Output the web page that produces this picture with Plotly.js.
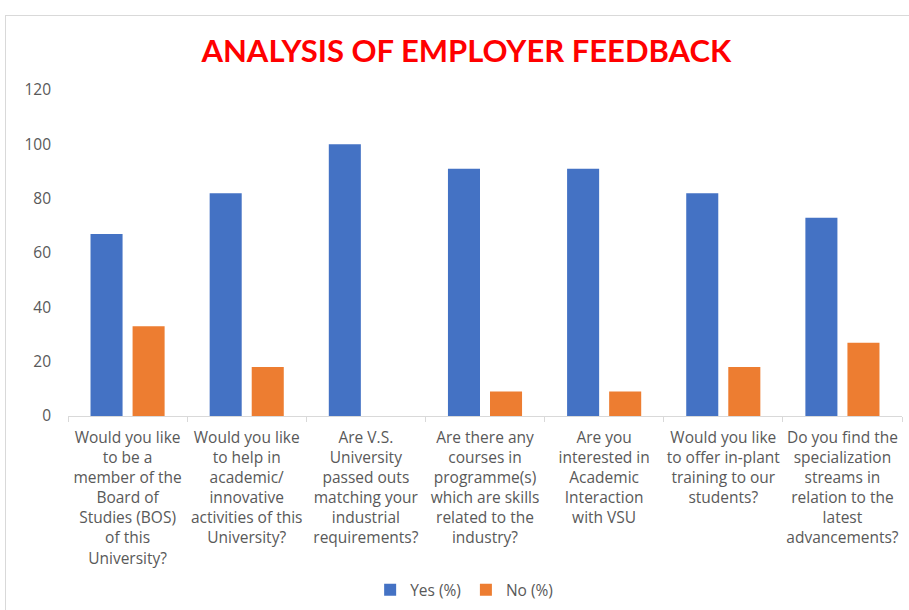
<!DOCTYPE html>
<html><head><meta charset="utf-8">
<script src="https://cdn.plot.ly/plotly-3.0.1.min.js"></script>
<style>body{margin:0;background:#fff}#frame{position:absolute;left:5px;top:15px;width:920px;height:620px;border:1px solid #d9d9d9;pointer-events:none}</style>
</head><body>
<div id="chart" style="width:909px;height:610px"></div>
<div id="frame"></div>
<script>
const categories = [
  "Would you like<br>to be a<br>member of the<br>Board of<br>Studies (BOS)<br>of this<br>University?",
  "Would you like<br>to help in<br>academic/<br>innovative<br>activities of this<br>University?",
  "Are V.S.<br>University<br>passed outs<br>matching your<br>industrial<br>requirements?",
  "Are there any<br>courses in<br>programme(s)<br>which are skills<br>related to the<br>industry?",
  "Are you<br>interested in<br>Academic<br>Interaction<br>with VSU",
  "Would you like<br>to offer in-plant<br>training to our<br>students?",
  "Do you find the<br>specialization<br>streams in<br>relation to the<br>latest<br>advancements?"
];
const yesValues = [67, 82, 100, 91, 91, 82, 73];
const noValues = [33, 18, 0, 9, 9, 18, 27];
const yTicks = [0, 20, 40, 60, 80, 100, 120];

const font = "'Open Sans', 'Noto Sans', sans-serif";
const fs = 15.5;
const data = [
  {type: 'bar', name: 'Yes (%)', x: categories, y: yesValues, marker: {color: '#4472C4'}},
  {type: 'bar', name: 'No (%)', x: categories, y: noValues, marker: {color: '#ED7D31'}}
];
const layout = {
  width: 909, height: 610,
  margin: {l: 68, r: 7, t: 90, b: 194, autoexpand: false},
  paper_bgcolor: '#fff', plot_bgcolor: '#fff',
  barmode: 'group', bargap: 0.294, bargroupgap: 0.238,
  title: {text: '<b>ANALYSIS OF EMPLOYER FEEDBACK</b>', x: 0.513, xanchor: 'center', y: 0.916, yanchor: 'middle',
    font: {family: "Lato, 'Liberation Sans', sans-serif", size: 31, color: '#FF0000'}},
  font: {family: font, size: fs, color: '#595959'},
  xaxis: {showline: true, linecolor: '#d9d9d9', linewidth: 1, ticks: 'outside', tickson: 'boundaries',
    ticklen: 5, tickcolor: '#d9d9d9', showgrid: false, tickangle: 0, ticklabelstandoff: 7, automargin: false,
    tickfont: {family: font, size: fs, color: '#595959'}},
  yaxis: {range: [0, 120], tickvals: yTicks, showgrid: false, zeroline: false, showline: false, automargin: false,
    ticklabelstandoff: 16, tickfont: {family: font, size: fs, color: '#595959'}},
  showlegend: true,
  legend: {orientation: 'h', x: 0.475, xanchor: 'center', y: -0.534, yanchor: 'middle',
    font: {family: font, size: fs, color: '#595959'}, itemwidth: 30}
};
Plotly.newPlot('chart', data, layout, {displayModeBar: false, staticPlot: true});
</script>
</body></html>
